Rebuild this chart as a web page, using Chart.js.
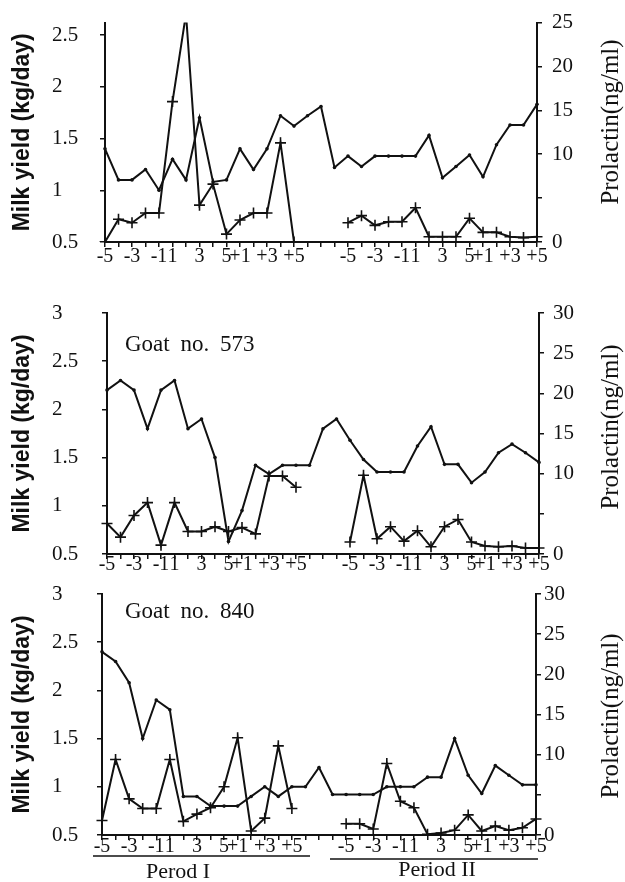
<!DOCTYPE html>
<html>
<head>
<meta charset="utf-8">
<script src="https://cdn.jsdelivr.net/npm/chart.js@4.4.1/dist/chart.umd.min.js"></script>
<style>
  html, body { margin: 0; padding: 0; background: #fff; }
  #wrap { position: relative; width: 625px; height: 882px; overflow: hidden; }
  canvas { position: absolute; left: 0; }
</style>
</head>
<body>
<div id="wrap">
  <canvas id="c1" width="625" height="278" style="top:0px"></canvas>
  <canvas id="c2" width="625" height="300" style="top:278px"></canvas>
  <canvas id="c3" width="625" height="304" style="top:578px"></canvas>
</div>
<script>
// days around treatment, period I then a 3-slot gap then period II
const periodDays = ['-5', '-4', '-3', '-2', '-1', '1', '2', '3', '4', '5', '+1', '+2', '+3', '+4', '+5'];
const gapDays = ['', '', ''];
const xLabels = periodDays.concat(gapDays, periodDays);
const shownDays = ['-5', '-3', '-1', '1', '3', '5', '+1', '+3', '+5'];

// top panel (no goat label)
const milkTop = [1.4, 1.1, 1.1, 1.2, 1.0, 1.3, 1.1, 1.7, 1.08, 1.1, 1.4, 1.2, 1.4, 1.72, 1.62,
  1.72, 1.81, 1.22,
  1.33, 1.23, 1.33, 1.33, 1.33, 1.33, 1.53, 1.12, 1.23, 1.34, 1.13, 1.44, 1.63, 1.63, 1.83];
const prolTop = [0, 2.6, 2.2, 3.3, 3.3, 16, 26, 4.2, 6.6, 0.9, 2.5, 3.3, 3.3, 11.3, 0,
  null, null, null,
  2.2, 3.0, 1.9, 2.3, 2.3, 3.9, 0.6, 0.6, 0.6, 2.7, 1.1, 1.1, 0.6, 0.5, 0.6];

// goat no. 573
const milk573 = [2.2, 2.3, 2.2, 1.8, 2.2, 2.3, 1.8, 1.9, 1.5, 0.63, 0.95, 1.42, 1.33, 1.42, 1.42,
  1.42, 1.8, 1.9,
  1.68, 1.48, 1.35, 1.35, 1.35, 1.62, 1.82, 1.43, 1.43, 1.24, 1.35, 1.55, 1.64, 1.55, 1.45];
const prol573 = [3.8, 2.1, 4.8, 6.4, 1.1, 6.4, 2.8, 2.8, 3.4, 2.8, 3.3, 2.5, 9.7, 9.7, 8.3,
  null, null, null,
  1.5, 9.8, 1.9, 3.4, 1.6, 2.9, 0.9, 3.4, 4.3, 1.5, 1.0, 0.9, 1.0, 0.75, 0.75];

// goat no. 840
const milk840 = [2.4, 2.3, 2.08, 1.5, 1.9, 1.8, 0.9, 0.9, 0.8, 0.8, 0.8, 0.9, 1.0, 0.9, 1.0,
  1.0, 1.2, 0.92,
  0.92, 0.92, 0.92, 1.0, 1.0, 1.0, 1.1, 1.1, 1.5, 1.12, 0.93, 1.22, 1.12, 1.02, 1.02];
const prol840 = [1.8, 9.4, 4.5, 3.3, 3.3, 9.4, 1.7, 2.6, 3.4, 6.0, 12.1, 0.5, 2.1, 11.1, 3.3,
  null, null, null,
  1.4, 1.4, 0.75, 8.9, 4.2, 3.4, 0.1, 0.25, 0.6, 2.5, 0.5, 1.1, 0.6, 0.9, 2.0];

const ink = '#111';
const serif = "'Liberation Serif', 'Times New Roman', serif";
Chart.defaults.font.family = serif;
Chart.defaults.color = ink;

// draws the extra labels: right-hand title (reads upward), goat names, period captions
const extras = {
  id: 'extras',
  afterDraw(chart, args, opts) {
    const ctx = chart.ctx;
    ctx.save();
    ctx.fillStyle = ink;
    ctx.strokeStyle = ink;
    (opts.texts || []).forEach(t => {
      ctx.save();
      ctx.font = t.font;
      if ('wordSpacing' in ctx && t.wordSpacing) ctx.wordSpacing = t.wordSpacing;
      ctx.textAlign = t.align || 'center';
      ctx.textBaseline = 'middle';
      ctx.translate(t.x, t.y);
      if (t.rotate) ctx.rotate(t.rotate);
      ctx.fillText(t.text, 0, 0);
      ctx.restore();
    });
    (opts.lines || []).forEach(l => {
      ctx.lineWidth = 1.5;
      ctx.beginPath();
      ctx.moveTo(l.x1, l.y);
      ctx.lineTo(l.x2, l.y);
      ctx.stroke();
    });
    ctx.restore();
  }
};

function rightTitle(y) {
  return { text: 'Prolactin(ng/ml)', x: 611, y: y, rotate: -Math.PI / 2, font: '25px ' + serif };
}
function goatLabel(text, y) {
  return { text: text, x: 125, y: y, align: 'left', font: '23px ' + serif, wordSpacing: '5px' };
}

const panels = [
  { id: 'c1', milk: milkTop, prol: prolTop, milkMax: 2.62, prolMax: 25,
    top: 15, left: 105, right: 537, xH: 36, xPad: 0, rPad: 10,
    texts: [rightTitle(122)], lines: [] },
  { id: 'c2', milk: milk573, prol: prol573, milkMax: 3, prolMax: 30,
    top: 35, left: 107, right: 539, xH: 24, xPad: -4, rPad: 9,
    texts: [rightTitle(149), goatLabel('Goat no. 573', 67)], lines: [] },
  { id: 'c3', milk: milk840, prol: prol840, milkMax: 3, prolMax: 30,
    top: 16, left: 102, right: 536, xH: 47, xPad: -3, rPad: 3,
    texts: [rightTitle(138), goatLabel('Goat no. 840', 34),
      { text: 'Perod I', x: 178, y: 294, font: '22px ' + serif },
      { text: 'Period II', x: 437, y: 292, font: '22px ' + serif }],
    lines: [{ x1: 93, x2: 310, y: 278 }, { x1: 330, x2: 538, y: 281 }] }
];

function buildChart(p) {
  return new Chart(document.getElementById(p.id), {
    type: 'line',
    data: {
      labels: xLabels,
      datasets: [
        {
          label: 'Milk yield',
          data: p.milk,
          yAxisID: 'yMilk',
          borderColor: ink,
          borderWidth: 2,
          pointRadius: 1.8,
          pointBackgroundColor: ink,
          pointBorderWidth: 0,
          tension: 0
        },
        {
          label: 'Prolactin',
          data: p.prol,
          yAxisID: 'yProl',
          borderColor: ink,
          borderWidth: 2,
          pointStyle: 'cross',
          pointRadius: 5.5,
          pointBorderWidth: 1.6,
          pointBorderColor: ink,
          spanGaps: false,
          tension: 0
        }
      ]
    },
    options: {
      responsive: false,
      animation: false,
      devicePixelRatio: 1,
      events: [],
      layout: { padding: { top: p.top, left: 52, right: 0, bottom: 0 } },
      plugins: {
        legend: { display: false },
        tooltip: { enabled: false },
        extras: { texts: p.texts, lines: p.lines }
      },
      scales: {
        x: {
          type: 'category',
          offset: false,
          grid: { drawOnChartArea: false, drawTicks: true, tickLength: 5, color: ink, lineWidth: 1.5, offset: false },
          border: { display: true, color: ink, width: 2 },
          ticks: {
            autoSkip: false, maxRotation: 0, minRotation: 0,
            padding: p.xPad,
            font: { size: 20, lineHeight: 1 },
            color: ink,
            callback: (v, i) => shownDays.includes(xLabels[i]) ? xLabels[i] : ''
          },
          afterFit: s => { s.height = p.xH; }
        },
        yMilk: {
          type: 'linear',
          position: 'left',
          min: 0.5,
          max: p.milkMax,
          ticks: {
            stepSize: 0.5, includeBounds: false, crossAlign: 'far',
            font: { size: 21 }, color: ink,
            callback: v => String(v)
          },
          grid: { drawOnChartArea: false, tickLength: 5, color: ink, lineWidth: 1.5 },
          border: { color: ink, width: 2 },
          title: {
            display: true,
            text: 'Milk yield (kg/day)',
            color: ink,
            font: { family: "'Liberation Sans', Arial, sans-serif", size: 23, weight: 'bold' },
            padding: { top: -43, bottom: 0 }
          },
          afterFit: s => { s.width = p.left - 52; }
        },
        yProl: {
          type: 'linear',
          position: 'right',
          min: 0,
          max: p.prolMax,
          ticks: {
            stepSize: 5,
            padding: p.rPad,
            font: { size: 21 },
            color: ink,
            callback: v => v === 5 ? '' : String(v)
          },
          grid: { drawOnChartArea: false, tickLength: 5, color: ink, lineWidth: 1.5 },
          border: { color: ink, width: 2 },
          afterFit: s => { s.width = 625 - p.right; }
        }
      }
    },
    plugins: [extras]
  });
}

panels.forEach(buildChart);
</script>
</body>
</html>
